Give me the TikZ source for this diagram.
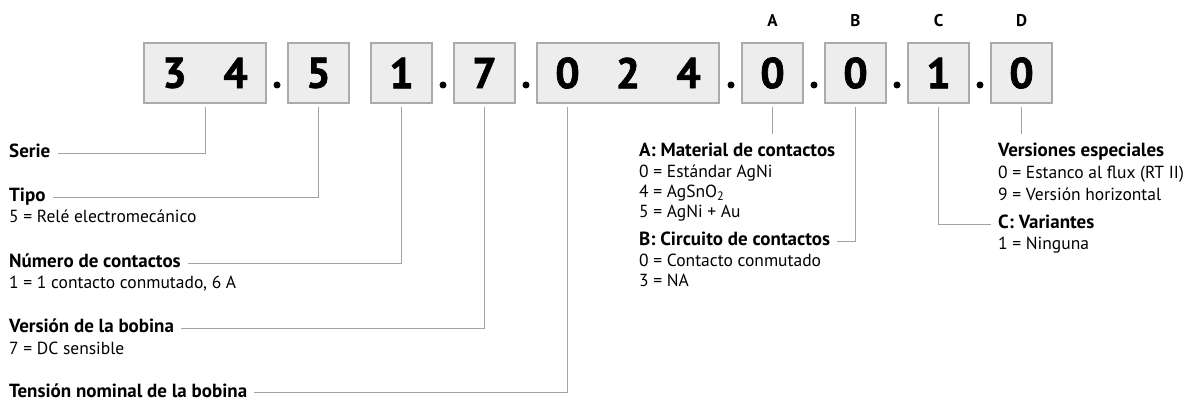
\documentclass[tikz,border=0pt]{standalone}
\usepackage{fontspec}
\setmainfont{PT Sans}
\newfontfamily\digitfont{PT Sans}[BoldFeatures={FakeBold=1.6}]
\definecolor{boxfill}{HTML}{EDEDED}
\definecolor{boxborder}{HTML}{ABABAB}
\definecolor{linegray}{HTML}{A3A3A3}
\begin{document}
\begin{tikzpicture}[x=1pt,y=-1pt,
  digitbox/.style={draw=boxborder, fill=boxfill, line width=1.3pt, minimum height=60pt, inner sep=0pt},
  digit/.style={inner sep=0pt, font=\digitfont\fontsize{43}{43}\selectfont\bfseries},
  sep/.style={circle, fill=black, inner sep=0pt, minimum size=7pt},
  letter/.style={inner sep=0pt, font=\fontsize{17}{17}\selectfont\bfseries},
  head/.style={anchor=base west, inner sep=0pt, font=\fontsize{19}{22}\selectfont\bfseries},
  sub/.style={anchor=base west, inner sep=0pt, font=\fontsize{17.5}{20}\selectfont},
  conn/.style={draw=linegray, line width=1pt}
]
\useasboundingbox (0,0) rectangle (1202,403);
% boxes
\node[digitbox, minimum width=122pt] (b34) at (205,73) {};
\node[digit] (d3) at (174.5,73) {3};
\node[digit] (d4) at (235.5,73) {4};
\node[digitbox, minimum width=61pt] (b5) at (318.5,73) {};
\node[digit] (d5) at (318.5,73) {5};
\node[digitbox, minimum width=61pt] (b1) at (401.5,73) {};
\node[digit] (d1) at (401.5,73) {1};
\node[digitbox, minimum width=61pt] (b7) at (484.5,73) {};
\node[digit] (d7) at (484.5,73) {7};
\node[digitbox, minimum width=182pt] (b024) at (628,73) {};
\node[digit] (d0a) at (567.5,73) {0};
\node[digit] (d2) at (628,73) {2};
\node[digit] (d4b) at (688.5,73) {4};
\node[digitbox, minimum width=61pt] (bA) at (772.5,73) {};
\node[digit] (dA) at (772.5,73) {0};
\node[digitbox, minimum width=61pt] (bB) at (855.5,73) {};
\node[digit] (dB) at (855.5,73) {0};
\node[digitbox, minimum width=61pt] (bC) at (938.5,73) {};
\node[digit] (dC) at (938.5,73) {1};
\node[digitbox, minimum width=61pt] (bD) at (1021.5,73) {};
\node[digit] (dD) at (1021.5,73) {0};
% separators
\node[sep] (s1) at (277,85) {};
\node[sep] (s2) at (443,85) {};
\node[sep] (s3) at (526,85) {};
\node[sep] (s4) at (731,85) {};
\node[sep] (s5) at (814,85) {};
\node[sep] (s6) at (897,85) {};
\node[sep] (s7) at (980,85) {};
% letters
\node[letter] (lA) at (772.5,21) {A};
\node[letter] (lB) at (855.5,21) {B};
\node[letter] (lC) at (938.5,21) {C};
\node[letter] (lD) at (1021.5,21) {D};
% left labels
\node[head] (serie) at (9,158) {Serie};
\node[head] (tipo) at (9,202) {Tipo};
\node[sub] (tipos) at (9,223) {5 = Relé electromecánico};
\node[head] (num) at (9,268) {Número de contactos};
\node[sub] (nums) at (9,289) {1 = 1 contacto conmutado, 6 A};
\node[head] (vers) at (9,333) {Versión de la bobina};
\node[sub] (verss) at (9,354) {7 = DC sensible};
\node[head] (tens) at (9,397) {Tensión nominal de la bobina};
% right labels
\node[head] (matA) at (639,157) {A: Material de contactos};
\node[sub] (matA1) at (639,178) {0 = Estándar AgNi};
\node[sub] (matA2) at (639,198) {4 = AgSnO\textsubscript{2}};
\node[sub] (matA3) at (639,218) {5 = AgNi + Au};
\node[head] (cirB) at (639,246) {B: Circuito de contactos};
\node[sub] (cirB1) at (639,267) {0 = Contacto conmutado};
\node[sub] (cirB2) at (639,287) {3 = NA};
\node[head] (vesp) at (998,157) {Versiones especiales};
\node[sub] (vesp1) at (998,179) {0 = Estanco al flux (RT II)};
\node[sub] (vesp2) at (998,201) {9 = Versión horizontal};
\node[head] (varC) at (998,229) {C: Variantes};
\node[sub] (varC1) at (998,250) {1 = Ninguna};
% connectors
\coordinate (aend) at (772.5,134);
\coordinate (dend) at (1021.5,134);
\draw[conn] ([yshift=-3pt]b34.south) |- ([xshift=7pt,yshift=4.5pt]serie.base east);
\draw[conn] ([yshift=-3pt]b5.south) |- ([xshift=7pt,yshift=4.5pt]tipo.base east);
\draw[conn] ([yshift=-3pt]b1.south) |- ([xshift=7pt,yshift=4.5pt]num.base east);
\draw[conn] ([yshift=-3pt]b7.south) |- ([xshift=7pt,yshift=4.5pt]vers.base east);
\draw[conn] ([yshift=-3pt]d0a.center |- b024.south) |- ([xshift=7pt,yshift=4.5pt]tens.base east);
\draw[conn] ([yshift=-3pt]bA.south) -- (aend);
\draw[conn] ([yshift=-3pt]bB.south) |- ([xshift=7pt,yshift=4.5pt]cirB.base east);
\draw[conn] ([yshift=-3pt]bC.south) |- ([xshift=-7pt,yshift=4.5pt]varC.base west);
\draw[conn] ([yshift=-3pt]bD.south) -- (dend);
\end{tikzpicture}
\end{document}
